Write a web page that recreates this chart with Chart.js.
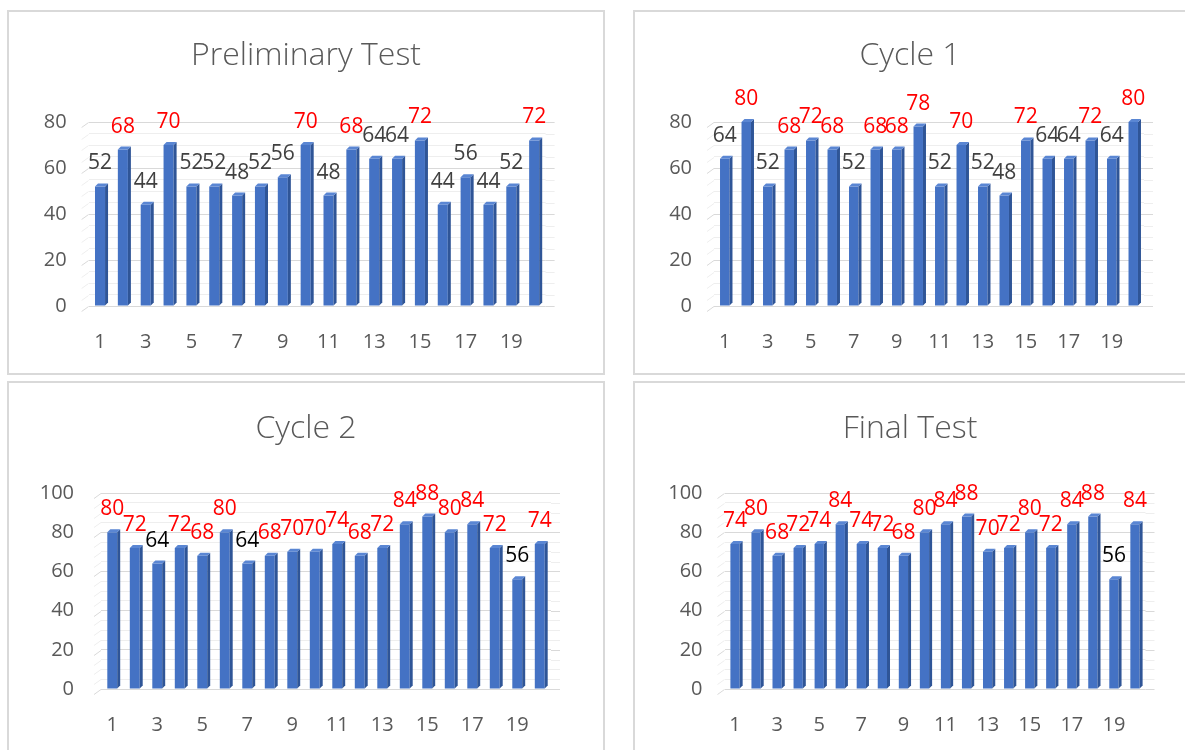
<!DOCTYPE html>
<html>
<head>
<meta charset="utf-8">
<script src="https://cdn.jsdelivr.net/npm/chart.js@4.4.1/dist/chart.umd.min.js"></script>
<style>
  body { margin: 0; background: #fff; width: 1185px; height: 750px; overflow: hidden; position: relative; }
  .panel { position: absolute; border: 2px solid #d9d9d9; box-sizing: border-box; }
  canvas { position: absolute; }
</style>
</head>
<body>
<div class="panel" style="left:7px;top:10px;width:598px;height:365px"></div>
<div class="panel" style="left:633px;top:10px;width:600px;height:365px"></div>
<div class="panel" style="left:7px;top:381px;width:598px;height:400px"></div>
<div class="panel" style="left:633px;top:381px;width:600px;height:400px"></div>
<canvas id="c1"></canvas>
<canvas id="c2"></canvas>
<canvas id="c3"></canvas>
<canvas id="c4"></canvas>
<script>
const categories = ['1', '2', '3', '4', '5', '6', '7', '8', '9', '10',
    '11', '12', '13', '14', '15', '16', '17', '18', '19', '20'];

const preliminary = [52, 68, 44, 70, 52, 52, 48, 52, 56, 70, 48, 68, 64, 64, 72, 44, 56, 44, 52, 72];
const cycle1 = [64, 80, 52, 68, 72, 68, 52, 68, 68, 78, 52, 70, 52, 48, 72, 64, 64, 72, 64, 80];
const cycle2 = [80, 72, 64, 72, 68, 80, 64, 68, 70, 70, 74, 68, 72, 84, 88, 80, 84, 72, 56, 74];
const finalTest = [74, 80, 68, 72, 74, 84, 74, 72, 68, 80, 84, 88, 70, 72, 80, 72, 84, 88, 56, 84];

const titles = ['Preliminary Test', 'Cycle 1', 'Cycle 2', 'Final Test'];
const yMax = [80, 80, 100, 100];
const majorStep = 20;
const highMark = 68; // labels at or above this are red

Chart.defaults.font.family = "'Open Sans', 'Noto Sans', 'DejaVu Sans', sans-serif";

// page positions of canvases and plot areas
const panels = [
    {id: 'c1', left: 9, top: 12, width: 594, height: 361,
        area: {left: 88.6, right: 545.6, top: 122, bottom: 306}, titleY: 56, yPad: 22, labelColor: '#404040'},
    {id: 'c2', left: 635, top: 12, width: 550, height: 361,
        area: {left: 714, right: 1144, top: 122, bottom: 306}, titleY: 56, yPad: 22, labelColor: '#404040'},
    {id: 'c3', left: 9, top: 383, width: 594, height: 367,
        area: {left: 101, right: 551, top: 493, bottom: 689}, titleY: 429, yPad: 27, labelColor: '#000000'},
    {id: 'c4', left: 635, top: 383, width: 550, height: 367,
        area: {left: 724.5, right: 1145.5, top: 493, bottom: 689}, titleY: 429, yPad: 22, labelColor: '#000000'},
];
const series = [preliminary, cycle1, cycle2, finalTest];

// fake 3d side and top of every column
const columnSides = {
    id: 'columnSides',
    afterDatasetsDraw(chart) {
        const c = chart.ctx;
        const d = 3;
        chart.getDatasetMeta(0).data.forEach(bar => {
            const r = bar.x + bar.width / 2;
            const l = bar.x - bar.width / 2;
            c.save();
            c.fillStyle = '#2f5597';
            c.beginPath();
            c.moveTo(r, bar.y);
            c.lineTo(r + d, bar.y - d);
            c.lineTo(r + d, bar.base - d);
            c.lineTo(r, bar.base);
            c.closePath();
            c.fill();
            c.fillStyle = '#5a86d3';
            c.beginPath();
            c.moveTo(l, bar.y);
            c.lineTo(l + d, bar.y - d);
            c.lineTo(r + d, bar.y - d);
            c.lineTo(r, bar.y);
            c.closePath();
            c.fill();
            c.restore();
        });
    }
};

// diagonal stubs at the left end of grid lines, and a short run past the right edge
const wallStubs = {
    id: 'wallStubs',
    beforeDatasetsDraw(chart) {
        const c = chart.ctx;
        const y = chart.scales.y;
        const {left, right} = chart.chartArea;
        c.save();
        y.ticks.forEach(t => {
            const py = Math.round(y.getPixelForValue(t.value)) + 0.5;
            c.strokeStyle = t.value % majorStep === 0 ? '#d9d9d9' : '#eeeeee';
            c.lineWidth = 1;
            c.beginPath();
            c.moveTo(left - 7, py + 5);
            c.lineTo(left, py);
            c.moveTo(right, py);
            c.lineTo(right + 9, py);
            c.stroke();
        });
        c.restore();
    }
};

const valueLabels = {
    id: 'valueLabels',
    afterDatasetsDraw(chart, args, opts) {
        const c = chart.ctx;
        const values = chart.data.datasets[0].data;
        c.save();
        c.font = "21px 'Open Sans', 'Noto Sans', sans-serif";
        c.textAlign = 'center';
        c.textBaseline = 'alphabetic';
        chart.getDatasetMeta(0).data.forEach((bar, i) => {
            const v = values[i];
            c.fillStyle = v >= highMark ? '#ff0000' : opts.color;
            c.fillText(String(v), bar.x, bar.y - 17);
        });
        c.restore();
    }
};

function make_chart(p, values, title, max) {
    const cv = document.getElementById(p.id);
    cv.width = p.width;
    cv.height = p.height;
    cv.style.left = p.left + 'px';
    cv.style.top = p.top + 'px';

    const aLeft = p.area.left - p.left;
    const aRight = p.area.right - p.left;
    const aTop = p.area.top - p.top;
    const aBottom = p.area.bottom - p.top;
    const titleSize = 32;
    const lineH = titleSize * 1.2;
    const tY = p.titleY - p.top;

    return new Chart(cv, {
        type: 'bar',
        data: {
            labels: categories,
            datasets: [{
                data: values,
                backgroundColor: '#4472c4',
                categoryPercentage: 1,
                barPercentage: 0.44,
            }]
        },
        options: {
            responsive: false,
            animation: false,
            devicePixelRatio: 1,
            layout: {padding: 0},
            plugins: {
                legend: {display: false},
                tooltip: {enabled: false},
                title: {
                    display: true,
                    text: title,
                    color: '#595959',
                    font: {size: titleSize, weight: '300'},
                    padding: {top: tY - lineH / 2, bottom: aTop - tY - lineH / 2},
                },
                valueLabels: {color: p.labelColor},
            },
            scales: {
                x: {
                    grid: {display: false},
                    border: {display: false},
                    ticks: {
                        color: '#595959',
                        font: {size: 20},
                        padding: 16,
                        autoSkip: false,
                        maxRotation: 0,
                        callback: (val, idx) => idx % 2 === 0 ? categories[idx] : '',
                    },
                    afterFit: s => { s.height = p.height - aBottom; },
                },
                y: {
                    min: 0,
                    max: max,
                    border: {display: false},
                    grid: {
                        drawTicks: false,
                        color: ctx => ctx.tick.value % majorStep === 0 ? '#d9d9d9' : '#eeeeee',
                    },
                    ticks: {
                        stepSize: 5,
                        autoSkip: false,
                        color: '#595959',
                        font: {size: 20},
                        padding: p.yPad,
                        callback: v => v % majorStep === 0 ? v : '',
                    },
                    afterFit: s => { s.width = aLeft; },
                },
                // empty right-hand spacer so the title stays centred on the panel
                spacer: {
                    type: 'linear',
                    position: 'right',
                    grid: {display: false},
                    border: {display: false},
                    ticks: {display: false},
                    afterFit: s => { s.width = p.width - aRight; },
                },
            },
        },
        plugins: [wallStubs, columnSides, valueLabels],
    });
}

window.onload = () => {
    panels.forEach((p, i) => make_chart(p, series[i], titles[i], yMax[i]));
};
</script>
</body>
</html>
